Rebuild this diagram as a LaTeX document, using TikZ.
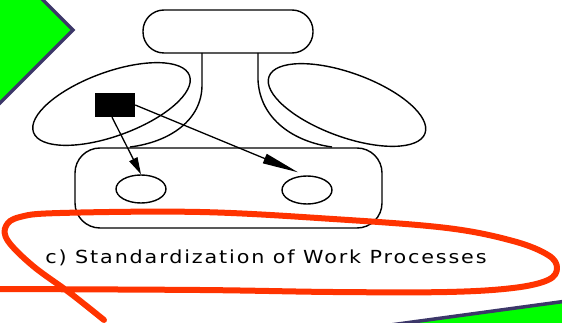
\documentclass[tikz,border=0pt]{standalone}
\usepackage{fontspec}
\setmainfont{DejaVu Sans}
\usetikzlibrary{shapes.geometric,arrows.meta}
\definecolor{slidegreen}{RGB}{0,255,0}
\definecolor{slideedge}{RGB}{60,55,105}
\definecolor{penred}{RGB}{255,51,0}

\begin{document}
\begin{tikzpicture}[x=1pt,y=-1pt,
    part/.style={draw,line width=1.4pt,inner sep=0pt},
    blob/.style={part,ellipse,minimum width=166pt,minimum height=64pt},
    worker/.style={part,ellipse,minimum width=50pt,minimum height=28pt},
    flow/.style={line width=1.3pt,-{Triangle[length=17pt,width=9pt]}}
]
\useasboundingbox (0,0) rectangle (562,323);
% green corners of the slide
\filldraw[fill=slidegreen,draw=slideedge,line width=3.5pt] (-5,-5) -- (38,-5) -- (73,30) -- (-5,108) -- cycle;
\filldraw[fill=slidegreen,draw=slideedge,line width=3.5pt] (380,326.4) -- (570,300.6) -- (570,330) -- cycle;

% the five parts
\node[part,rounded corners=21pt,minimum width=170pt,minimum height=43pt] (apex) at (228,31.5) {};
\node[blob,rotate=20] (techno) at (111.5,104) {};
\node[blob,rotate=-20] (support) at (347,105) {};
\node[part,rounded corners=25pt,minimum width=307pt,minimum height=80pt] (core) at (228.5,188) {};

% middle line
\draw[line width=1.4pt] (202,53) -- (202,85) .. controls (202,120) and (170,142) .. (130,147);
\draw[line width=1.4pt] (258,53) -- (258,80) .. controls (260,120) and (295,142) .. (332,147);

\node[fill=black,minimum width=40pt,minimum height=24pt,inner sep=0pt] (mgr) at (115,105) {};
\node[worker] (opA) at (141,189) {};
\node[worker] (opB) at (307,190) {};

\draw[flow] ([xshift=-3pt]mgr.south) -- (opA.north);
\draw[flow,-{Triangle[length=36pt,width=10pt]}] (mgr.east) -- ([shift={(-9pt,3pt)}]opB.north);

\node[font=\fontsize{18}{21}\selectfont\addfontfeatures{LetterSpace=9},xscale=1.15,anchor=base] (caption) at (266,263) {c) Standardization of Work Processes};

% red pen loop
\draw[penred,line width=6pt,line cap=round,line join=round] plot[smooth,tension=0.6] coordinates {
  (104,320) (70,293) (33,266) (8,241) (6,226) (20,217) (60,213) (200,212) (333,219)
  (447,228) (513,241) (548,255) (557,268) (548,280) (513,288) (447,292) (333,292)
  (200,290) (-5,289)};
\end{tikzpicture}
\end{document}
